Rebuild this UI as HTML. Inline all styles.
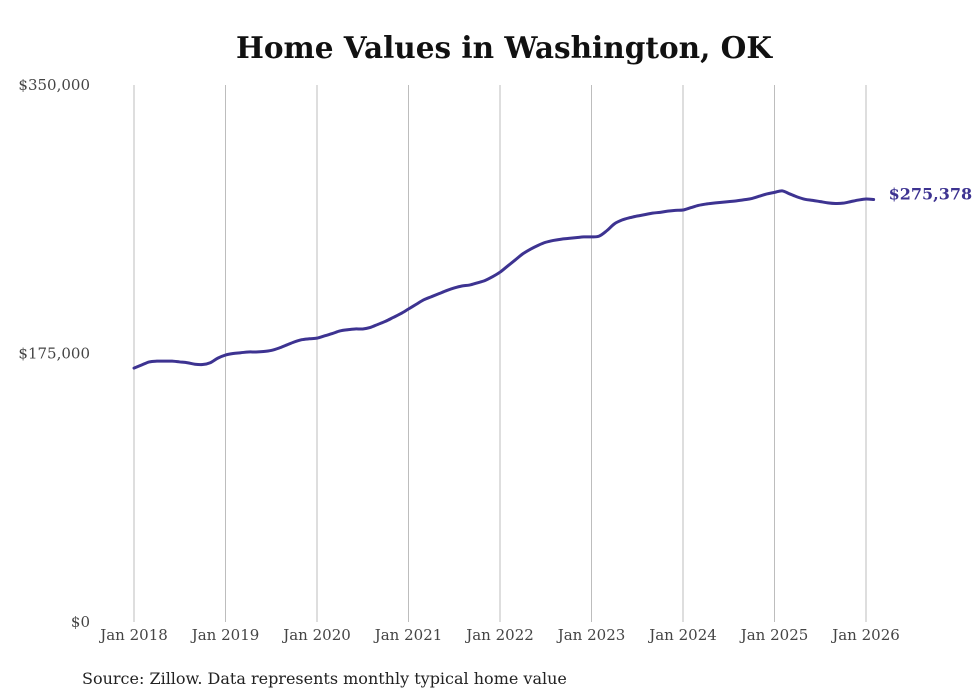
<!DOCTYPE html>
<html><head><meta charset="utf-8"><style>
html,body{margin:0;padding:0;background:#fff;}
svg{display:block;font-family:"DejaVu Serif","Liberation Serif",serif;}
</style></head><body>
<svg id="chart" width="980" height="699" viewBox="0 0 980 699" xmlns="http://www.w3.org/2000/svg">
<text x="504" y="58" text-anchor="middle" font-size="29.5" font-weight="bold" fill="#111">Home Values in Washington, OK</text>
<g id="grid"></g>
<g id="yaxis"></g>
<g id="xaxis"></g>
<path id="line" fill="none" stroke="#3d3391" stroke-width="3" stroke-linejoin="round" stroke-linecap="round"></path>
<text id="endlabel" font-size="16" font-weight="bold" fill="#3d3391"></text>
<text x="82" y="684" font-size="16" fill="#222">Source: Zillow. Data represents monthly typical home value</text>
</svg>
<script>
const yTickValues = [0, 175000, 350000];
const yTickLabels = ["$0", "$175,000", "$350,000"];
const xTickYears = [2018, 2019, 2020, 2021, 2022, 2023, 2024, 2025, 2026];
const xTickLabels = ["Jan 2018","Jan 2019","Jan 2020","Jan 2021","Jan 2022","Jan 2023","Jan 2024","Jan 2025","Jan 2026"];
const startYear = 2018;
const valuesK = [
165.5,167.5,169.5,170,170,170,169.5,169,168,167.8,169,172,
174,175,175.5,176,176,176.3,177,178.5,180.5,182.5,184,184.6,
185,186.5,188,189.7,190.5,191,191,192,194,196,198.5,201,
204,207,210,212,214,216,217.7,219,219.6,221,222.5,225,
228,232,236,240,243,245.5,247.5,248.7,249.5,250,250.5,251,
251,251.5,255,259.5,262,263.5,264.6,265.5,266.5,267,267.8,268.3,
268.5,270,271.5,272.4,273,273.5,274,274.5,275.2,276,277.5,279,
280,281,279,277,275.5,274.8,274,273.2,272.8,273,274,275,
275.7,275.378
];
const endLabel = "$275,378";

const NS = "http://www.w3.org/2000/svg";
const x = t => 134 + (t - startYear) * 91.5;
const y = v => 622 - v / 350000 * 537;

const grid = document.getElementById('grid');
const xa = document.getElementById('xaxis');
xTickYears.forEach((yr, i) => {
  const l = document.createElementNS(NS, 'line');
  
  
  l.setAttribute('x1', x(yr)); l.setAttribute('x2', x(yr));
  l.setAttribute('y1', 85); l.setAttribute('y2', 622);
  l.setAttribute('stroke', '#bdbdbd'); l.setAttribute('stroke-width', '1');
  grid.appendChild(l);
  const t = document.createElementNS(NS, 'text');
  
  
  t.setAttribute('x', x(yr)); t.setAttribute('y', 640);
  t.setAttribute('text-anchor', 'middle'); t.setAttribute('font-size', '15'); t.setAttribute('fill', '#444');
  t.textContent = xTickLabels[i];
  xa.appendChild(t);
});
const ya = document.getElementById('yaxis');
yTickValues.forEach((v, i) => {
  const t = document.createElementNS(NS, 'text');
  
  
  t.setAttribute('x', 90); t.setAttribute('y', y(v) + 5);
  t.setAttribute('text-anchor', 'end'); t.setAttribute('font-size', '15'); t.setAttribute('fill', '#444');
  t.textContent = yTickLabels[i];
  ya.appendChild(t);
});

const pts = valuesK.map((v, i) => [x(startYear + i / 12), y(v * 1000)]);
let d = 'M' + pts[0][0].toFixed(2) + ',' + pts[0][1].toFixed(2);
for (let i = 0; i < pts.length - 1; i++) {
  const p0 = pts[Math.max(0, i - 1)], p1 = pts[i], p2 = pts[i + 1], p3 = pts[Math.min(pts.length - 1, i + 2)];
  const c1 = [p1[0] + (p2[0] - p0[0]) / 6, p1[1] + (p2[1] - p0[1]) / 6];
  const c2 = [p2[0] - (p3[0] - p1[0]) / 6, p2[1] - (p3[1] - p1[1]) / 6];
  d += 'C' + c1.map(n => n.toFixed(2)).join(',') + ' ' + c2.map(n => n.toFixed(2)).join(',') + ' ' + p2.map(n => n.toFixed(2)).join(',');
}
document.getElementById('line').setAttribute('d', d);
const last = pts[pts.length - 1];
const el = document.getElementById('endlabel');
el.setAttribute('x', last[0] + 15); el.setAttribute('y', last[1]);
el.textContent = endLabel;
</script>
</body></html>
